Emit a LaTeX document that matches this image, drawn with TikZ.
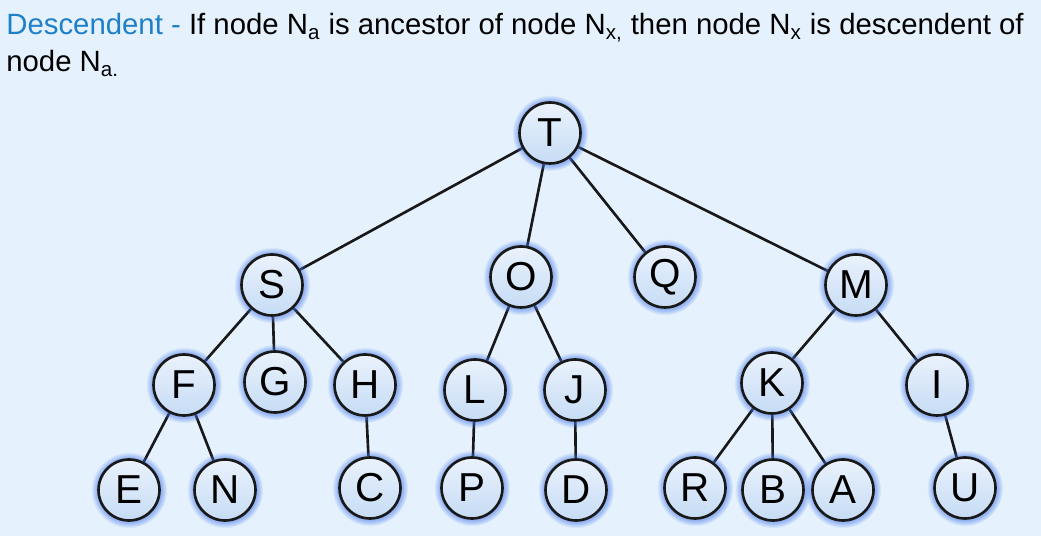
\documentclass[tikz,border=0pt]{standalone}
\usepackage{fontspec}
\setmainfont{Liberation Sans}
\usepackage{xcolor}
\usepackage{tikz}
\usetikzlibrary{shapes,positioning,calc,shadows,backgrounds}

\definecolor{bgblue}{RGB}{229,242,253}
\definecolor{headblue}{RGB}{30,128,200}
\definecolor{nodetop}{RGB}{234,242,252}
\definecolor{nodebot}{RGB}{198,220,245}
\definecolor{glowblue}{RGB}{70,120,235}

\tikzset{
    vert/.style={circle, draw=black!90, line width=1.5pt, minimum size=1.22cm, inner sep=0pt,
        top color=nodetop, bottom color=nodebot,
        circular glow={fill=glowblue, opacity=0.5}, shadow scale=1.1,
        font=\fontsize{23}{23}\selectfont},
    link/.style={line width=1.5pt, black!90}
}

\begin{document}
\begin{tikzpicture}[x=0.02cm, y=-0.02cm]
    % heading
    \node[anchor=base west, inner sep=0pt, font=\fontsize{16.7}{16.7}\selectfont] (head1) at (6,35)
        {\textcolor{headblue}{Descendent -} If node N\textsubscript{a} is ancestor of node N\textsubscript{x,} then node N\textsubscript{x} is descendent of};
    \node[anchor=base west, inner sep=0pt, font=\fontsize{16.7}{16.7}\selectfont] (head2) at (6,72)
        {node N\textsubscript{a.}};

    % level 0 and 1
    \node[vert] (T) at (550,133) {T};
    \node[vert] (S) at (272,285) {S};
    \node[vert] (O) at (521,277) {O};
    \node[vert] (Q) at (665,277) {Q};
    \node[vert] (M) at (856,285) {M};
    % level 2
    \node[vert] (F) at (184,385) {F};
    \node[vert] (G) at (275,382) {G};
    \node[vert] (H) at (365,385) {H};
    \node[vert] (L) at (475,390) {L};
    \node[vert] (J) at (575,390) {J};
    \node[vert] (K) at (772,383) {K};
    \node[vert] (I) at (937,385) {I};
    % leaves
    \node[vert] (E) at (129,490) {E};
    \node[vert] (N) at (225,490) {N};
    \node[vert] (C) at (370,488) {C};
    \node[vert] (P) at (472,488) {P};
    \node[vert] (D) at (576,490) {D};
    \node[vert] (R) at (695,488) {R};
    \node[vert] (B) at (773,490) {B};
    \node[vert] (A) at (843,490) {A};
    \node[vert] (U) at (965,488) {U};

    \begin{scope}[on background layer]
    \fill[bgblue] (0,0) rectangle (1041,536);
    \foreach \a/\b in {T/S,T/O,T/Q,T/M,S/F,S/G,S/H,O/L,O/J,M/K,M/I,
                       F/E,F/N,H/C,L/P,J/D,K/R,K/B,K/A,I/U}
        \draw[link] (\a) -- (\b);
    \end{scope}
\end{tikzpicture}
\end{document}
